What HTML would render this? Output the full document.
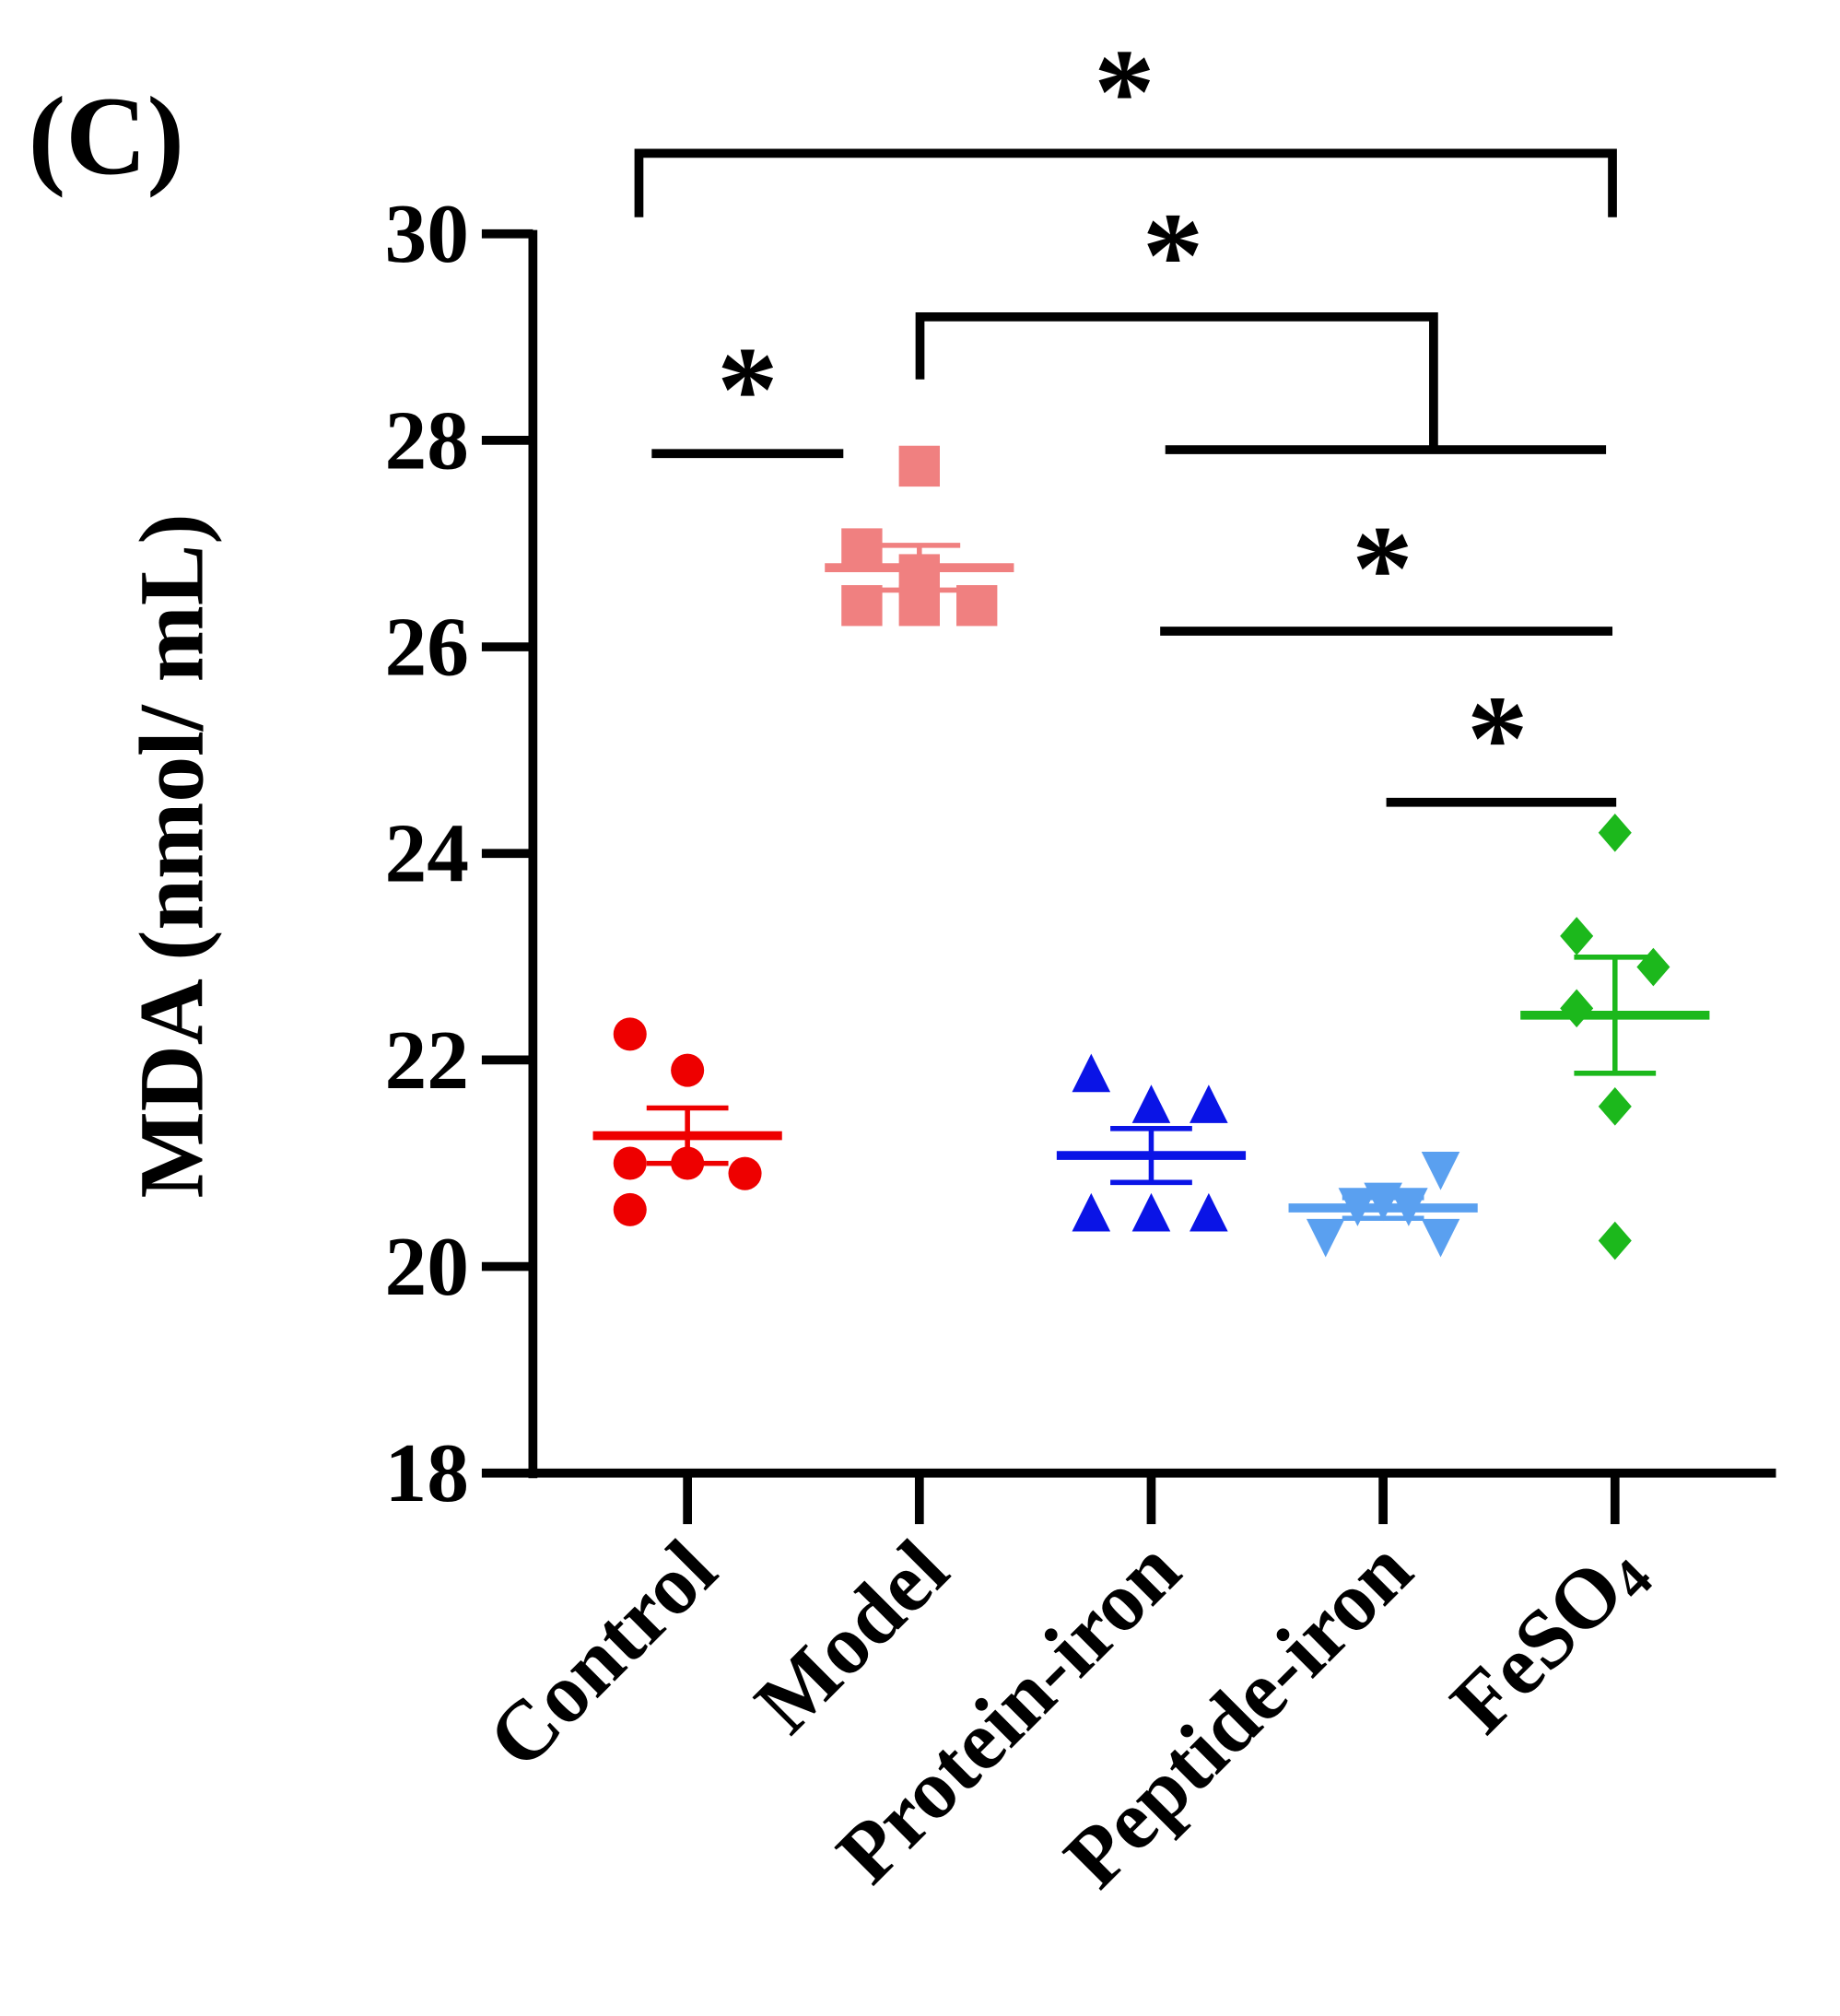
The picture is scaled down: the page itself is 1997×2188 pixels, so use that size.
<!DOCTYPE html>
<html><head><meta charset="utf-8"><style>
html,body{margin:0;padding:0;background:#fff;}
svg{display:block;}
text{font-family:"Liberation Serif","Times New Roman",serif;font-weight:bold;}
</style></head><body>
<svg id="chart" width="1997" height="2188" viewBox="0 0 1440 1578" xmlns="http://www.w3.org/2000/svg">
<text x="22" y="136" font-size="88">(C)</text>
<text transform="translate(158,670) rotate(-90)" text-anchor="middle" font-size="72">MDA (nmol/ mL)</text>
<g id="axes"></g>
<g id="sig"></g>
<g id="marks"></g>
</svg>
<script>
const categories = ["Control","Model","Protein-iron","Peptide-iron","FeSO4"];
const controlValues = [22.25,21.9,21.0,21.0,20.9,20.55];
const modelValues = [27.75,26.95,26.7,26.4,26.4,26.4];
const proteinValues = [21.85,21.55,21.55,20.5,20.5,20.5];
const peptideValues = [20.95,20.65,20.6,20.6,20.3,20.3];
const feso4Values = [24.2,23.2,22.9,22.5,21.55,20.25];
const yTicks = [18,20,22,24,26,28,30];
const colors = ["#ee0000","#f08080","#0a14e6","#5aa0f0","#1cb81c"];
const shapes = ["circle","square","triangle","tridown","diamond"];
const series = [controlValues,modelValues,proteinValues,peptideValues,feso4Values];
const jitters = [[-45,0,-45,0,45,-45],[0,-45,0,-45,0,45],[-47,0,45,-47,0,45],[45,0,-20,20,-45,45],[0,-30,30,-30,0,0]];

const NS="http://www.w3.org/2000/svg";
const X0=417,X1=1390,Y0=1153,Y1=183;
function y(v){return Y0-(v-18)/(30-18)*(Y0-Y1);}
function x(i){return 538+i*181.5;}
function el(tag,attrs,parent){const e=document.createElementNS(NS,tag);for(const k in attrs)e.setAttribute(k,attrs[k]);parent.appendChild(e);return e;}
const axes=document.getElementById('axes'),marks=document.getElementById('marks'),sig=document.getElementById('sig');

const ya=el('line',{x1:X0,y1:Y1-3,x2:X0,y2:Y0+4,stroke:'#000','stroke-width':7},axes);


const xa=el('line',{x1:X0-3,y1:Y0,x2:X1,y2:Y0,stroke:'#000','stroke-width':7},axes);


yTicks.forEach(t=>{
  const l=el('line',{x1:X0-40,y1:y(t),x2:X0,y2:y(t),stroke:'#000','stroke-width':7},axes);
  
  
  const tx=el('text',{x:X0-50,y:y(t)+22,'text-anchor':'end','font-size':66},axes);
  
  
  tx.textContent=t;
});
categories.forEach((c,i)=>{
  const l=el('line',{x1:x(i),y1:Y0,x2:x(i),y2:Y0+40,stroke:'#000','stroke-width':7},axes);
  
  
  const tx=el('text',{transform:`translate(${x(i)+26},${Y0+80}) rotate(-45)`,'text-anchor':'end','font-size':66},axes);
  
  
  if(c==="FeSO4"){tx.textContent="FeSO";const s=el('tspan',{'font-size':44,dy:8},tx);s.textContent="4";}
  else tx.textContent=c;
});

function marker(shape,cx,cy,col,p){
  let m;
  if(shape==='circle')m=el('circle',{cx,cy,r:13,fill:col},p);
  else if(shape==='square')m=el('rect',{x:cx-16,y:cy-16,width:32,height:32,fill:col},p);
  else if(shape==='triangle')m=el('polygon',{points:`${cx},${cy-17} ${cx+15},${cy+13} ${cx-15},${cy+13}`,fill:col},p);
  else if(shape==='tridown')m=el('polygon',{points:`${cx},${cy+17} ${cx+15},${cy-13} ${cx-15},${cy-13}`,fill:col},p);
  else m=el('polygon',{points:`${cx},${cy-15} ${cx+13},${cy} ${cx},${cy+15} ${cx-13},${cy}`,fill:col},p);
  return m;
}
series.forEach((vals,i)=>{
  const g=el('g',{},marks);
  
  
  vals.forEach((v,j)=>{
    const m=marker(shapes[i],x(i)+jitters[i][j],y(v),colors[i],g);
    
    
  });
  const n=vals.length,mean=vals.reduce((a,b)=>a+b,0)/n;
  const sd=Math.sqrt(vals.reduce((a,b)=>a+(b-mean)*(b-mean),0)/(n-1)),sem=sd/Math.sqrt(n);
  const cx=x(i);
  const ml=el('line',{x1:cx-74,x2:cx+74,y1:y(mean),y2:y(mean),stroke:colors[i],'stroke-width':7},g);
  
  
  const eb=el('path',{d:`M${cx},${y(mean+sem)}V${y(mean-sem)}M${cx-32},${y(mean+sem)}H${cx+32}M${cx-32},${y(mean-sem)}H${cx+32}`,stroke:colors[i],'stroke-width':4,fill:'none'},g);
  
  
});

const brackets=[
  ["M500,170V120H1262V170",880,82],
  ["M720,297V248H1122V352M912,352H1257",918,210],
  ["M510,355H660",585,315],
  ["M908,494H1262",1082,455],
  ["M1085,628H1265",1172,588]
];
brackets.forEach(b=>{
  const p=el('path',{d:b[0],stroke:'#000','stroke-width':7,fill:'none'},sig);
  
  
  const t=el('text',{x:b[1],y:b[2]+22,'text-anchor':'middle','font-size':96,'font-family':'Liberation Sans, sans-serif'},sig);
  
  
  t.textContent='*';
});
</script>
</body></html>
